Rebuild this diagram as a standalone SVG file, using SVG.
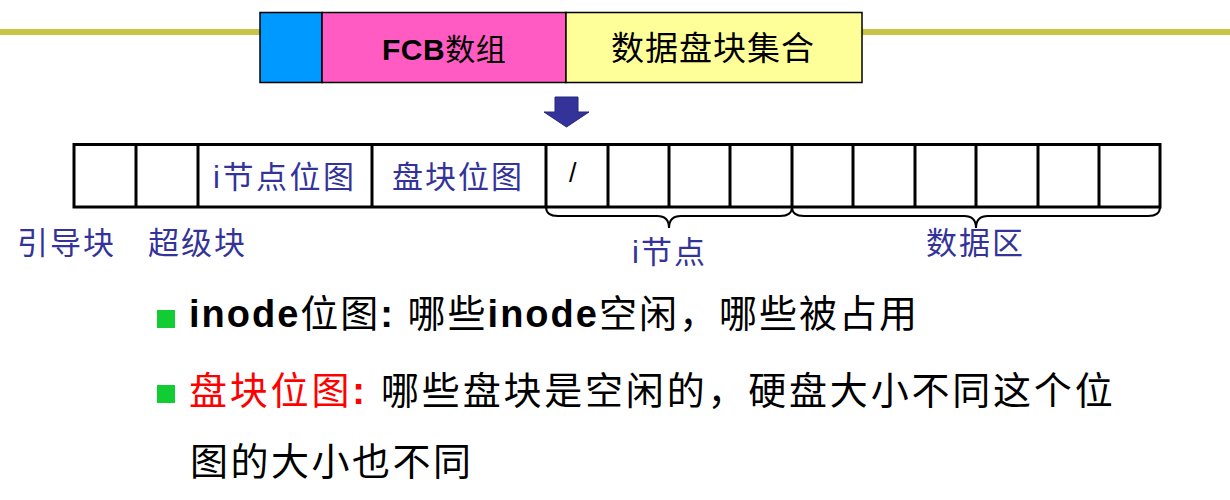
<svg xmlns="http://www.w3.org/2000/svg" width="1230" height="500" viewBox="0 0 1230 500">
<style>
.cjk{font-family:"Liberation Sans","Noto Sans CJK SC",sans-serif;}
.lbl{font-size:31px;letter-spacing:2px;fill:#333399;}
.cell{fill:#fff;stroke:#000;stroke-width:3;}
.brace{fill:none;stroke:#000;stroke-width:2;}
.bul{fill:#11cc33;}
.body{font-size:38px;letter-spacing:2px;fill:#000;}
.b{font-weight:bold;}
</style>
<rect width="1230" height="500" fill="#fff"/>
<g id="title-line"><rect x="0" y="29" width="1230" height="6" fill="#c8c445"/></g>
<g id="fs-layout">
  <rect x="260" y="12.5" width="62" height="70" fill="#0099ff" stroke="#000" stroke-width="1.5"/>
  <g id="fcb"><rect x="322" y="12.5" width="244" height="70" fill="#ff5bc2" stroke="#000" stroke-width="1.5"/>
  <text class="cjk" x="382" y="60" font-size="30" letter-spacing="0.5"><tspan class="b">FCB</tspan>数组</text></g>
  <g id="datablocks"><rect x="566" y="12.5" width="296" height="70" fill="#ffff99" stroke="#000" stroke-width="1.5"/>
  <text class="cjk" x="611" y="60" font-size="33" letter-spacing="1">数据盘块集合</text></g>
</g>
<g id="connectors">
  <path d="M555,97 L578,97 L578,112 L589,112 L566.5,127 L544,112 L555,112 Z" fill="#333399" stroke="#26267a" stroke-width="1"/>
  <path class="brace" d="M546,207 Q546,216 558,216 L657,216 Q669,216 669,228 Q669,216 681,216 L780,216 Q792,216 792,207"/>
  <path class="brace" d="M792,207 Q792,216 804,216 L964,216 Q976,216 976,228 Q976,216 988,216 L1148,216 Q1160,216 1160,207"/>
</g>
<g id="strip">
  <rect class="cell" x="74" y="144.5" width="1086" height="62.5"/>
  <path d="M136,144.5V207M198,144.5V207M372,144.5V207M546,144.5V207M608,144.5V207M669,144.5V207M730,144.5V207M792,144.5V207M853,144.5V207M915,144.5V207M976,144.5V207M1038,144.5V207M1099,144.5V207" stroke="#000" stroke-width="3"/>
  <g id="inode-bitmap"><text class="cjk lbl" x="213" y="188" style="letter-spacing:2.5px">i节点位图</text></g>
  <g id="block-bitmap"><text class="cjk lbl" x="392" y="188">盘块位图</text></g>
  <g id="inode-slash"><text class="cjk" x="569" y="182" font-size="27" fill="#000">/</text></g>
</g>
<g id="boot"><text class="cjk lbl" x="17" y="254">引导块</text></g>
<g id="super"><text class="cjk lbl" x="148" y="254">超级块</text></g>
<g id="inode-area"><text class="cjk lbl" x="632" y="263">i节点</text></g>
<g id="data-area"><text class="cjk lbl" x="926" y="254">数据区</text></g>
<g id="bullet1">
  <rect class="bul" x="157" y="310" width="18" height="18"/>
  <text class="cjk body" x="189" y="327"><tspan class="b">inode</tspan>位图<tspan class="b">: </tspan>哪些<tspan class="b">inode</tspan>空闲，哪些被占用</text>
</g>
<g id="bullet2">
  <rect class="bul" x="157" y="385" width="18" height="18"/>
  <text class="cjk body" x="189" y="404" style="letter-spacing:2.8px"><tspan fill="#ff0000">盘块位图<tspan class="b">:</tspan></tspan> 哪些盘块是空闲的，硬盘大小不同这个位</text>
  <text class="cjk body" x="190" y="475" style="letter-spacing:2.5px">图的大小也不同</text>
</g>
</svg>
